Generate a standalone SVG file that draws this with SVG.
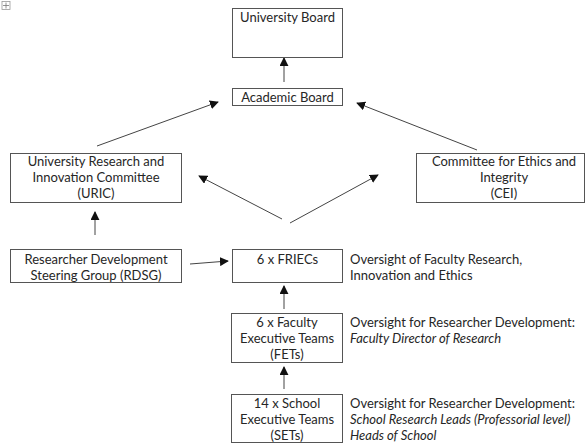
<svg xmlns="http://www.w3.org/2000/svg" width="586" height="443" viewBox="0 0 586 443">
<style>
.box{fill:#fff;stroke:#555;stroke-width:1}
.t{font-family:Lato,"Liberation Sans",sans-serif;font-size:13px;fill:#262626}
.c{text-anchor:middle}
.i{font-style:italic}
.ln{stroke:#444;stroke-width:1;fill:none;marker-end:url(#ah)}
</style>
<defs>
<marker id="ah" viewBox="0 0 10 10" refX="9" refY="5" markerWidth="9" markerHeight="9" markerUnits="userSpaceOnUse" orient="auto">
<path d="M0,0 L10,5 L0,10 z" fill="#111"/>
</marker>
</defs>
<g id="handle">
<rect x="2" y="1.5" width="8" height="8" fill="#fff" stroke="#999" stroke-width="0.8"/>
<path d="M6,2.5 V8.5 M3,5.5 H9" stroke="#777" stroke-width="0.8"/>
</g>
<g id="connectors">
<line class="ln" x1="284" y1="82" x2="284" y2="58"/>
<line class="ln" x1="97" y1="146" x2="218" y2="102"/>
<line class="ln" x1="477" y1="150" x2="357" y2="103"/>
<line class="ln" x1="282" y1="219" x2="199" y2="176"/>
<line class="ln" x1="290" y1="223" x2="378" y2="175"/>
<line class="ln" x1="95" y1="235" x2="95" y2="212"/>
<line class="ln" x1="190" y1="264" x2="228" y2="261"/>
<line class="ln" x1="284" y1="309" x2="284" y2="286"/>
<line class="ln" x1="284" y1="389" x2="284" y2="367"/>
</g>
<g id="university-board">
<rect class="box" x="232.5" y="8.5" width="110" height="49"/>
<text class="t c" x="287.5" y="22">University Board</text>
</g>
<g id="academic-board">
<rect class="box" x="232.5" y="88.5" width="110" height="17"/>
<text class="t c" x="287.5" y="102">Academic Board</text>
</g>
<g id="uric">
<rect class="box" x="10.5" y="153.5" width="171" height="49"/>
<text class="t c" x="96" y="166">University Research and</text>
<text class="t c" x="96" y="182">Innovation Committee</text>
<text class="t c" x="96" y="198">(URIC)</text>
</g>
<g id="cei">
<rect class="box" x="416.5" y="153.5" width="168" height="49"/>
<text class="t c" x="504" y="166">Committee for Ethics and</text>
<text class="t c" x="504" y="182">Integrity</text>
<text class="t c" x="504" y="198">(CEI)</text>
</g>
<g id="rdsg">
<rect class="box" x="10.5" y="249.5" width="171" height="33"/>
<text class="t c" x="96" y="264">Researcher Development</text>
<text class="t c" x="96" y="280">Steering Group (RDSG)</text>
</g>
<g id="friecs">
<rect class="box" x="232.5" y="249.5" width="110" height="33"/>
<text class="t c" x="287.5" y="264">6 x FRIECs</text>
<text class="t" x="350" y="264">Oversight of Faculty Research,</text>
<text class="t" x="350" y="280">Innovation and Ethics</text>
</g>
<g id="fets">
<rect class="box" x="231.5" y="313.5" width="111" height="49"/>
<text class="t c" x="287" y="327">6 x Faculty</text>
<text class="t c" x="287" y="343">Executive Teams</text>
<text class="t c" x="287" y="359">(FETs)</text>
<text class="t" x="350" y="327">Oversight for Researcher Development:</text>
<text class="t i" x="350" y="343">Faculty Director of Research</text>
</g>
<g id="sets">
<rect class="box" x="231.5" y="394.5" width="111" height="48"/>
<text class="t c" x="287" y="408">14 x School</text>
<text class="t c" x="287" y="424">Executive Teams</text>
<text class="t c" x="287" y="440">(SETs)</text>
<text class="t" x="350" y="408">Oversight for Researcher Development:</text>
<text class="t i" x="350" y="424">School Research Leads (Professorial level)</text>
<text class="t i" x="350" y="440">Heads of School</text>
</g>
</svg>
